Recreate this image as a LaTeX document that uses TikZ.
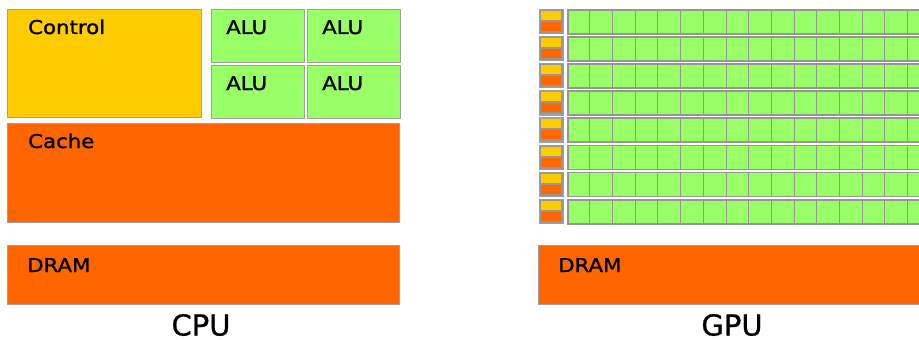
\documentclass[tikz,border=0pt]{standalone}
\usepackage{fontspec}
\setmainfont{DejaVu Sans}
\newfontfamily\lblfont[FakeStretch=1.12,FakeBold=1.3]{DejaVu Sans}
\newfontfamily\titlefont[FakeBold=0.8]{DejaVu Sans}
\usetikzlibrary{calc,positioning}
\definecolor{ctrlyellow}{RGB}{255,204,0}
\definecolor{cacheorange}{RGB}{255,102,0}
\definecolor{alugreen}{RGB}{153,255,102}
\definecolor{rimgray}{RGB}{160,160,160}
\definecolor{divgray}{RGB}{150,150,150}
\tikzset{
  blk/.style={draw=rimgray,line width=1.2pt,inner sep=0pt,anchor=north west},
  ctrlblk/.style={blk,fill=ctrlyellow},
  cacheblk/.style={blk,fill=cacheorange},
  alublk/.style={blk,fill=alugreen},
  lanerow/.style={alublk,draw=divgray,line width=1.8pt,minimum width=380,minimum height=24},
  celldiv/.style={draw=divgray,line width=0.8pt},
  lbl/.style={anchor=base west,inner sep=0pt,font=\lblfont\fontsize{19}{19}\selectfont},
  title/.style={inner sep=0pt,font=\titlefont\fontsize{29}{29}\selectfont}
}

\begin{document}
\begin{tikzpicture}[x=1pt,y=-1pt]
\useasboundingbox (0,0) rectangle (919,340);
\clip (0,0) rectangle (919,340);
% CPU side
\node[ctrlblk,minimum width=194,minimum height=108] (ctrl) at (7,9) {};
\node[lbl] (ctrllbl) at ($(ctrl.north west)+(21,25)$) {Control};
\foreach \c/\x in {0/211,1/307}
  \foreach \r/\y in {0/9,1/65} {
    \node[alublk,minimum width=93,minimum height=53] (alu\c\r) at (\x,\y) {};
    \node[lbl] (alulbl\c\r) at ($(alu\c\r.north west)+(15,25)$) {ALU};
  }
\node[cacheblk,minimum width=392,minimum height=99] (cache) at (7,123) {};
\node[lbl] (cachelbl) at ($(cache.north west)+(21,25)$) {Cache};
\node[cacheblk,minimum width=392,minimum height=59] (cpudram) at (7,245) {};
\node[lbl] (cpudramlbl) at ($(cpudram.north west)+(20,27)$) {DRAM};
\node[title] (cpu) at (201,325) {CPU};
% GPU side: 8 lanes of control + cache + ALUs
\foreach \r in {0,...,7} {
  \pgfmathsetmacro\rowtop{9+27.1*\r}
  \node[blk,fill=divgray,minimum width=24,minimum height=24] (sm\r) at (539,\rowtop) {};
  \fill[ctrlyellow] ($(sm\r.north west)+(2,2)$) rectangle ($(sm\r.north west)+(22,11)$);
  \fill[cacheorange] ($(sm\r.north west)+(2,13)$) rectangle ($(sm\r.north west)+(22,22)$);
  \node[lanerow] (lane\r) at (567,\rowtop) {};
  \foreach \k in {1,...,15}
    \draw[celldiv] ($(lane\r.north west)+(22.7*\k,0)$) -- ($(lane\r.south west)+(22.7*\k,0)$);
}
\node[cacheblk,minimum width=400,minimum height=59] (gpudram) at (538,245) {};
\node[lbl] (gpudramlbl) at ($(gpudram.north west)+(20,27)$) {DRAM};
\node[title] (gpu) at (732,325) {GPU};
\end{tikzpicture}
\end{document}
